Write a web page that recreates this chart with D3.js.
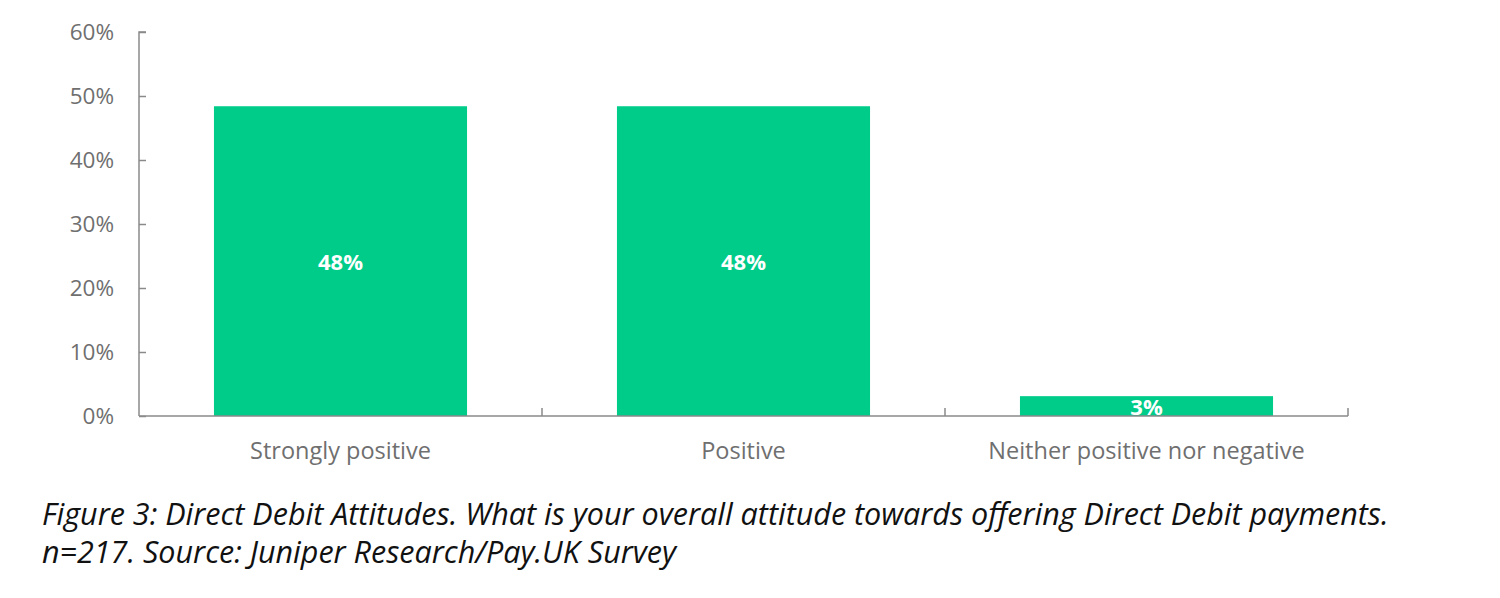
<!DOCTYPE html>
<html>
<head>
<meta charset="utf-8">
<script src="https://cdn.jsdelivr.net/npm/d3@7"></script>
<style>
  body { margin: 0; background: #fff; }
  svg { display: block; }
</style>
</head>
<body>
<svg width="1500" height="598"></svg>
<script>
const categories = ["Strongly positive", "Positive", "Neither positive nor negative"];
const values = [48.4, 48.4, 3.1];
const barLabels = ["48%", "48%", "3%"];
const yTicks = [0, 10, 20, 30, 40, 50, 60];
const captionLines = [
  "Figure 3: Direct Debit Attitudes. What is your overall attitude towards offering Direct Debit payments.",
  "n=217. Source: Juniper Research/Pay.UK Survey"
];

const svg = d3.select("svg");
const plotLeft = 139, plotRight = 1348, plotTop = 32, plotBottom = 416;
const grey = "#6f6f6f";

const x = d3.scaleBand()
  .domain(categories)
  .range([plotLeft, plotRight])
  .paddingInner(0.372)
  .paddingOuter(0.186);

const y = d3.scaleLinear().domain([0, 60]).range([plotBottom, plotTop]);

// bars
svg.selectAll("rect.bar")
  .data(values)
  .enter()
  .append("rect")
  .attr("class", "bar")
  .attr("x", (d, i) => x(categories[i]))
  .attr("y", d => y(d))
  .attr("width", x.bandwidth())
  .attr("height", d => y(0) - y(d))
  .attr("fill", "#00cc8a");

// y axis
const yAxis = svg.append("g")
  .attr("transform", "translate(" + plotLeft + ",0)")
  .call(d3.axisRight(y).tickValues(yTicks).tickSize(7).tickFormat(d => d + "%"));
yAxis.select(".domain").attr("stroke", "#8a8a8a").attr("stroke-width", 1.5)
  .attr("d", "M7," + plotTop + "H0V" + plotBottom);
yAxis.selectAll(".tick line").attr("stroke", "#8a8a8a").attr("stroke-width", 1.5);
yAxis.selectAll(".tick text")
  .attr("x", -25)
  .attr("text-anchor", "end")
  .attr("fill", grey)
  .style("font-family", "'Open Sans', sans-serif")
  .style("font-size", "22.5px");

// x axis: line with upward ticks at band boundaries
const xAxis = svg.append("g");
xAxis.append("line")
  .attr("x1", plotLeft).attr("x2", plotRight)
  .attr("y1", plotBottom).attr("y2", plotBottom)
  .attr("stroke", "#8a8a8a").attr("stroke-width", 1.5);
xAxis.selectAll("line.sep")
  .data(categories)
  .enter()
  .append("line")
  .attr("class", "sep")
  .attr("x1", d => x(d) - x.step() * x.paddingOuter() + x.step())
  .attr("x2", d => x(d) - x.step() * x.paddingOuter() + x.step())
  .attr("y1", plotBottom).attr("y2", plotBottom - 8)
  .attr("stroke", "#8a8a8a").attr("stroke-width", 1.5);

xAxis.selectAll("text")
  .data(categories)
  .enter()
  .append("text")
  .attr("x", d => x(d) + x.bandwidth() / 2)
  .attr("y", 459)
  .attr("text-anchor", "middle")
  .attr("fill", grey)
  .style("font-family", "'Open Sans', sans-serif")
  .style("font-size", "23.5px")
  .text(d => d);

// value labels
svg.selectAll("text.val")
  .data(values)
  .enter()
  .append("text")
  .attr("class", "val")
  .attr("x", (d, i) => x(categories[i]) + x.bandwidth() / 2)
  .attr("y", d => (y(d) + y(0)) / 2)
  .attr("dy", "0.42em")
  .attr("text-anchor", "middle")
  .attr("fill", "#fff")
  .style("font-family", "'Open Sans', sans-serif")
  .style("font-weight", "bold")
  .style("font-size", "22px")
  .text((d, i) => barLabels[i]);

// caption
svg.selectAll("text.cap")
  .data(captionLines)
  .enter()
  .append("text")
  .attr("class", "cap")
  .attr("x", 42)
  .attr("y", (d, i) => 525 + i * 38)
  .attr("fill", "#111")
  .style("font-family", "'Open Sans', sans-serif")
  .style("font-style", "italic")
  .style("font-size", "30.5px")
  .text(d => d);
</script>
</body>
</html>
